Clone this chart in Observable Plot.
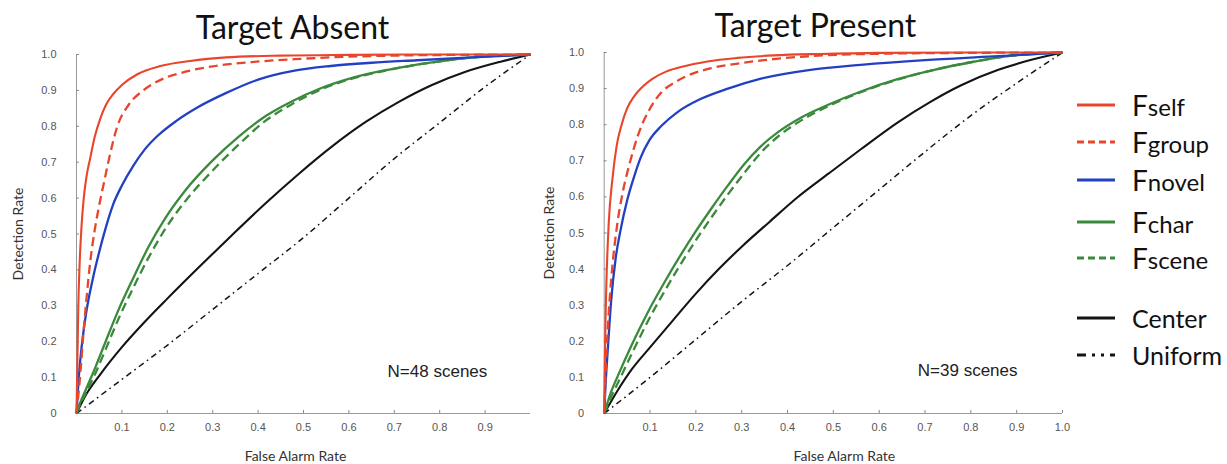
<!DOCTYPE html>
<html>
<head>
<meta charset="utf-8">
<script src="https://cdn.jsdelivr.net/npm/d3@7"></script>
<script src="https://cdn.jsdelivr.net/npm/@observablehq/plot@0.6"></script>
<style>
  body { margin: 0; background: #fff; }
  #chart { position: relative; width: 1227px; height: 464px; overflow: hidden; background: #fff; }
  #chart svg.panel { position: absolute; top: 0; }
  #legend { position: absolute; left: 0; top: 0; width: 1227px; height: 464px; pointer-events: none; }
  .row { position: absolute; left: 1077px; height: 40px; display: flex; align-items: center; font-family: Lato, "Open Sans", sans-serif; color: #111; white-space: nowrap; }
  .row svg { margin-right: 17px; }
  .row .big { font-size: 28px; }
  .row .sub { font-size: 24px; }
  .row .plain { font-size: 25px; }
</style>
</head>
<body>
<div id="chart"></div>
<script>
// ROC curves: [false alarm rate, detection rate]
// Target absent (N=48 scenes)
const absentSelf = [[0,0],[0.002,0.15],[0.004,0.3],[0.007,0.42],[0.011,0.52],[0.016,0.6],[0.022,0.66],[0.03,0.71],[0.04,0.77],[0.052,0.82],[0.065,0.86],[0.081,0.89],[0.1,0.915],[0.134,0.945],[0.185,0.968],[0.25,0.982],[0.33,0.992],[0.45,0.997],[0.6,0.999],[0.8,1],[1,1]];
const absentGroup = [[0,0],[0.004,0.05],[0.009,0.12],[0.015,0.22],[0.022,0.32],[0.03,0.42],[0.04,0.51],[0.05,0.58],[0.06,0.64],[0.07,0.7],[0.09,0.8],[0.115,0.86],[0.147,0.9],[0.19,0.932],[0.24,0.952],[0.3,0.967],[0.387,0.979],[0.48,0.987],[0.56,0.992],[0.7,0.997],[0.85,0.999],[1,1]];
const absentNovel = [[0,0],[0.005,0.1],[0.01,0.17],[0.02,0.27],[0.035,0.37],[0.05,0.45],[0.065,0.52],[0.08,0.58],[0.1,0.635],[0.125,0.69],[0.15,0.735],[0.18,0.775],[0.22,0.815],[0.27,0.855],[0.33,0.893],[0.4,0.93],[0.48,0.955],[0.56,0.968],[0.65,0.977],[0.75,0.984],[0.87,0.992],[1,1]];
const absentChar = [[0,0],[0.005,0.02],[0.02,0.065],[0.042,0.13],[0.064,0.2],[0.093,0.29],[0.123,0.372],[0.159,0.465],[0.196,0.545],[0.24,0.622],[0.3,0.705],[0.358,0.772],[0.416,0.828],[0.475,0.87],[0.534,0.904],[0.607,0.935],[0.688,0.958],[0.783,0.978],[0.857,0.99],[0.93,0.997],[1,1]];
const absentScene = [[0,0],[0.005,0.017],[0.02,0.055],[0.042,0.113],[0.064,0.178],[0.093,0.265],[0.123,0.345],[0.159,0.435],[0.196,0.515],[0.24,0.592],[0.3,0.677],[0.358,0.75],[0.416,0.815],[0.475,0.862],[0.534,0.9],[0.607,0.933],[0.688,0.957],[0.783,0.978],[0.857,0.99],[0.93,0.997],[1,1]];
const absentCenter = [[0,0],[0.02,0.05],[0.05,0.105],[0.1,0.185],[0.15,0.255],[0.2,0.32],[0.27,0.408],[0.34,0.494],[0.416,0.585],[0.49,0.668],[0.563,0.744],[0.637,0.812],[0.71,0.868],[0.783,0.915],[0.857,0.952],[0.934,0.98],[1,1]];
const absentUniform = [[0,0],[0.1,0.095],[0.2,0.19],[0.3,0.29],[0.4,0.39],[0.5,0.49],[0.6,0.6],[0.7,0.71],[0.8,0.81],[0.9,0.91],[1,1]];

// Target present (N=39 scenes)
const presentSelf = [[0,0],[0.002,0.2],[0.005,0.37],[0.01,0.53],[0.018,0.65],[0.027,0.74],[0.038,0.8],[0.05,0.845],[0.065,0.878],[0.082,0.903],[0.105,0.927],[0.135,0.947],[0.175,0.962],[0.225,0.975],[0.29,0.985],[0.37,0.992],[0.47,0.996],[0.6,0.999],[0.8,1],[1,1]];
const presentGroup = [[0,0],[0.004,0.14],[0.01,0.28],[0.018,0.41],[0.028,0.52],[0.04,0.61],[0.055,0.69],[0.075,0.775],[0.1,0.845],[0.125,0.89],[0.155,0.918],[0.19,0.94],[0.235,0.957],[0.3,0.971],[0.38,0.983],[0.48,0.992],[0.62,0.997],[0.8,0.999],[1,1]];
const presentNovel = [[0,0],[0.003,0.08],[0.008,0.18],[0.015,0.31],[0.025,0.43],[0.036,0.51],[0.05,0.59],[0.065,0.655],[0.08,0.71],[0.1,0.76],[0.125,0.797],[0.16,0.835],[0.21,0.871],[0.27,0.9],[0.34,0.927],[0.45,0.952],[0.56,0.966],[0.7,0.979],[0.85,0.989],[1,1]];
const presentChar = [[0,0],[0.015,0.06],[0.03,0.105],[0.06,0.19],[0.095,0.28],[0.13,0.36],[0.165,0.435],[0.2,0.505],[0.235,0.57],[0.27,0.632],[0.305,0.69],[0.34,0.738],[0.38,0.78],[0.43,0.82],[0.49,0.856],[0.56,0.892],[0.64,0.926],[0.72,0.952],[0.8,0.973],[0.88,0.99],[1,1]];
const presentScene = [[0,0],[0.015,0.045],[0.03,0.085],[0.06,0.165],[0.095,0.255],[0.13,0.335],[0.165,0.41],[0.2,0.48],[0.235,0.545],[0.27,0.607],[0.305,0.665],[0.34,0.72],[0.38,0.768],[0.43,0.812],[0.49,0.852],[0.56,0.89],[0.64,0.925],[0.72,0.952],[0.8,0.973],[0.88,0.99],[1,1]];
const presentCenter = [[0,0],[0.03,0.065],[0.06,0.122],[0.1,0.183],[0.15,0.258],[0.2,0.332],[0.25,0.4],[0.3,0.462],[0.36,0.53],[0.42,0.597],[0.49,0.665],[0.56,0.732],[0.64,0.806],[0.71,0.862],[0.78,0.91],[0.86,0.952],[0.93,0.979],[1,1]];
const presentUniform = [[0,0],[0.1,0.1],[0.2,0.205],[0.3,0.31],[0.4,0.41],[0.5,0.515],[0.6,0.62],[0.7,0.725],[0.8,0.825],[0.9,0.915],[1,1]];

// Legend entries and tick labels
const seriesKeys = ["Fself", "Fgroup", "Fnovel", "Fchar", "Fscene", "Center", "Uniform"];
const xTicksAbsent = [0.1, 0.2, 0.3, 0.4, 0.5, 0.6, 0.7, 0.8, 0.9];
const xTicksPresent = [0.1, 0.2, 0.3, 0.4, 0.5, 0.6, 0.7, 0.8, 0.9, 1.0];
const yTicks = [0, 0.1, 0.2, 0.3, 0.4, 0.5, 0.6, 0.7, 0.8, 0.9, 1.0];
const notes = [
  {panel: "absent", label: "N=48 scenes", fa: 0.795, dr: 0.117},
  {panel: "present", label: "N=39 scenes", fa: 0.793, dr: 0.119}
];

// Line styling per series
const styles = {
  Fself:   {stroke: "#e8462c", dash: null,          width: 2.1},
  Fgroup:  {stroke: "#e8462c", dash: "9,5",         width: 2.3},
  Fnovel:  {stroke: "#2140c2", dash: null,          width: 2.3},
  Fchar:   {stroke: "#3b8a3c", dash: null,          width: 2.3},
  Fscene:  {stroke: "#3b8a3c", dash: "9,5",         width: 2.3},
  Center:  {stroke: "#141414", dash: null,          width: 2.1},
  Uniform: {stroke: "#141414", dash: "6,4,1.6,4",   width: 1.5}
};
const drawOrder = ["Uniform", "Center", "Fscene", "Fchar", "Fnovel", "Fgroup", "Fself"];

const absentSeries = {Fself: absentSelf, Fgroup: absentGroup, Fnovel: absentNovel, Fchar: absentChar, Fscene: absentScene, Center: absentCenter, Uniform: absentUniform};
const presentSeries = {Fself: presentSelf, Fgroup: presentGroup, Fnovel: presentNovel, Fchar: presentChar, Fscene: presentScene, Center: presentCenter, Uniform: presentUniform};

const fmtX = d => d.toFixed(1);
const fmtY = d => (d === 0 ? "0" : d.toFixed(1));

function panel({title, series, note, xTicks, width, marginLeft, marginRight, marginTop, marginBottom, titleDx, xLabelDx, yLabelDx}) {
  const lines = drawOrder.map(key => {
    const s = styles[key];
    return Plot.line(series[key], {
      x: d => d[0], y: d => d[1],
      stroke: s.stroke, strokeWidth: s.width,
      strokeDasharray: s.dash ?? undefined,
      strokeLinecap: "butt", strokeLinejoin: "round",
      curve: "monotone-x"
    });
  });
  const svg = Plot.plot({
    width, height: 464, marginLeft, marginRight, marginTop, marginBottom,
    x: {domain: [0, 1]},
    y: {domain: [0, 1]},
    style: {background: "transparent", fontFamily: "'Liberation Sans', Arial, sans-serif", fontSize: "11px", color: "#555", overflow: "visible"},
    marks: [
      Plot.ruleY([0], {stroke: "#999", strokeWidth: 1}),
      Plot.ruleX([0], {stroke: "#999", strokeWidth: 1}),
      // inward tick marks
      Plot.axisX(xTicks, {tickSize: 3, dy: -3, tickFormat: () => "", label: null, stroke: "#888"}),
      Plot.axisY(yTicks, {tickSize: 3, dx: 3, tickFormat: () => "", label: null, stroke: "#888"}),
      // tick labels
      Plot.axisX(xTicks, {tickSize: 0, tickPadding: 10, tickFormat: fmtX, label: null, fill: "#555"}),
      Plot.axisY(yTicks, {tickSize: 0, tickPadding: 20, tickFormat: fmtY, label: null, fill: "#555"}),
      ...lines,
      Plot.text([note], {x: "fa", y: "dr", text: "label", fontSize: 17, fill: "#222", fontFamily: "'Liberation Sans', Arial, sans-serif"}),
      Plot.text([title], {frameAnchor: "top", lineAnchor: "middle", dx: titleDx, dy: -26, fontSize: 32, fill: "#111", fontFamily: "Lato, sans-serif"}),
      Plot.text(["False Alarm Rate"], {frameAnchor: "bottom", lineAnchor: "middle", dx: xLabelDx, dy: 43, fontSize: 14, fill: "#333", fontFamily: "Lato, sans-serif"}),
      Plot.text(["Detection Rate"], {frameAnchor: "left", lineAnchor: "middle", textAnchor: "middle", dx: yLabelDx, rotate: -90, fontSize: 14, fill: "#333", fontFamily: "Lato, sans-serif"})
    ]
  });
  svg.classList.add("panel");
  return svg;
}

const chart = document.getElementById("chart");

const left = panel({
  title: "Target Absent", series: absentSeries, note: notes[0], xTicks: xTicksAbsent,
  width: 545, marginLeft: 76, marginRight: 15, marginTop: 54, marginBottom: 51,
  titleDx: -11, xLabelDx: -8, yLabelDx: -58
});
left.style.left = "0px";
chart.appendChild(left);

const right = panel({
  title: "Target Present", series: presentSeries, note: notes[1], xTicks: xTicksPresent,
  width: 535, marginLeft: 58.7, marginRight: 18, marginTop: 52, marginBottom: 51,
  titleDx: -18, xLabelDx: 11, yLabelDx: -55
});
right.style.left = "545px";
chart.appendChild(right);

// Legend: sample line plus label; "F" names carry a smaller suffix
const legendRowY = {Fself: 105, Fgroup: 142, Fnovel: 180, Fchar: 222, Fscene: 258, Center: 318, Uniform: 355};
const legend = document.createElement("div");
legend.id = "legend";
for (const key of seriesKeys) {
  const s = styles[key];
  const row = document.createElement("div");
  row.className = "row";
  row.style.top = (legendRowY[key] - 20) + "px";
  const ns = "http://www.w3.org/2000/svg";
  const sw = document.createElementNS(ns, "svg");
  sw.setAttribute("width", 38); sw.setAttribute("height", 10);
  const ln = document.createElementNS(ns, "line");
  ln.setAttribute("x1", 0); ln.setAttribute("x2", 38);
  ln.setAttribute("y1", 5); ln.setAttribute("y2", 5);
  ln.setAttribute("stroke", s.stroke);
  ln.setAttribute("stroke-width", 3);
  if (s.dash) ln.setAttribute("stroke-dasharray", key === "Uniform" ? "9,6,3,6,3,6" : "7,4");
  sw.appendChild(ln);
  row.appendChild(sw);
  const label = document.createElement("span");
  if (key.startsWith("F")) {
    label.innerHTML = `<span class="big">F</span><span class="sub">${key.slice(1)}</span>`;
  } else {
    label.innerHTML = `<span class="plain">${key}</span>`;
  }
  row.appendChild(label);
  legend.appendChild(row);
}
chart.appendChild(legend);
</script>
</body>
</html>
